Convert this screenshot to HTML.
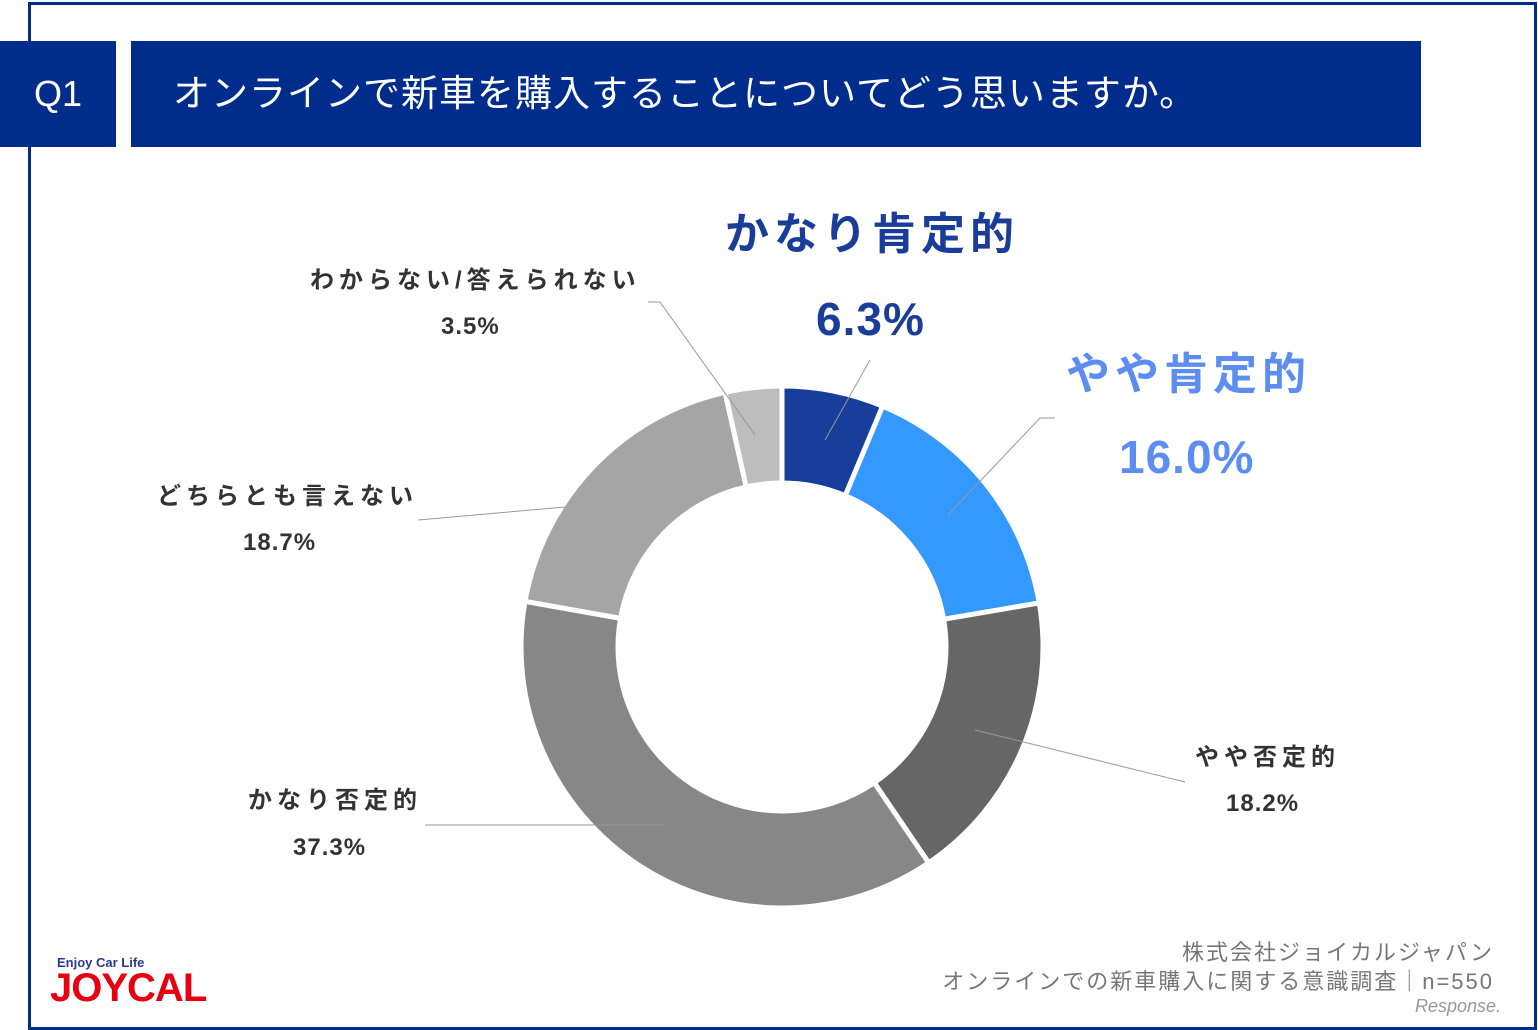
<!DOCTYPE html>
<html><head><meta charset="utf-8"><style>
body{margin:0;width:1538px;height:1030px;background:#fff;overflow:hidden;position:relative;font-family:"Liberation Sans","Noto Sans CJK JP",sans-serif}
.frame{position:absolute;left:28px;top:2px;width:1503px;height:1022px;border:3px solid #002d8c}
.q{position:absolute;left:0;top:41px;width:116px;height:106px;background:#002d8c;color:#fff;font-size:36px;line-height:106px;text-align:center;padding-left:0}
.t{position:absolute;left:131px;top:41px;width:1290px;height:106px;background:#002d8c;color:#fff;font-size:37px;line-height:106px;padding-left:42px;box-sizing:border-box;letter-spacing:1px}
.l{position:absolute;text-align:center;font-weight:bold;color:#333;font-size:24px;line-height:46px;white-space:nowrap;letter-spacing:5px}
.p{letter-spacing:1px}
.foot{position:absolute;right:44px;top:938px;text-align:right;color:#777;font-size:22px;line-height:29px;letter-spacing:2px}
</style></head><body>
<div class="frame"></div>
<div class="q">Q1</div>
<div class="t">オンラインで新車を購入することについてどう思いますか。</div>
<svg width="1538" height="1030" style="position:absolute;left:0;top:0">
<g id="d" stroke="#fff" stroke-width="5"></g>
<g stroke="#999" stroke-width="1" fill="none">
<polyline points="870,360 825,440"/>
<polyline points="1055,418 1040,418 948,515"/>
<polyline points="1185,782 975,730"/>
<polyline points="425,825 665,825"/>
<polyline points="418,520 565,507"/>
<polyline points="648,302 660,302 755,435"/>
</g>
</svg>
<div class="l" style="left:725px;top:200px;color:#1a3d99;font-size:44px;line-height:70px;letter-spacing:5px">かなり肯定的</div>
<div class="l" style="left:816px;top:284px;color:#1a3d99;font-size:46px;line-height:70px;letter-spacing:1px">6.3%</div>
<div class="l" style="left:1066px;top:340px;color:#5b8ef0;font-size:44px;line-height:70px;letter-spacing:5px">やや肯定的</div>
<div class="l" style="left:1119px;top:422px;color:#5b8ef0;font-size:46px;line-height:70px;letter-spacing:1px">16.0%</div>
<div class="l" style="left:1195px;top:735px">やや否定的</div>
<div class="l p" style="left:1226px;top:781px">18.2%</div>
<div class="l" style="left:248px;top:778px">かなり否定的</div>
<div class="l p" style="left:293px;top:825px">37.3%</div>
<div class="l" style="left:157px;top:474px">どちらとも言えない</div>
<div class="l p" style="left:243px;top:520px">18.7%</div>
<div class="l" style="left:310px;top:258px">わからない/答えられない</div>
<div class="l p" style="left:441px;top:304px">3.5%</div>
<div class="foot">株式会社ジョイカルジャパン<br>オンラインでの新車購入に関する意識調査｜n=550</div>
<div style="position:absolute;left:1415px;top:996px;color:#999;font-size:18px;font-style:italic">Response.</div>
<div style="position:absolute;left:57px;top:955px;color:#2b3990;font-size:13px;font-weight:bold">Enjoy Car Life</div>
<div style="position:absolute;left:50px;top:966px;color:#e60012;font-size:40px;font-weight:bold;letter-spacing:-1px">JOYCAL</div>
<script>
var cx=782,cy=647,R=261,r=164,v=[6.3,16.0,18.2,37.3,18.7,3.5],c=["#173e9b","#3399ff","#666666","#878787","#a5a5a5","#bdbdbd"],a=0,g=document.getElementById('d'),s='';
function p(rad,ang){var t=ang/100*2*Math.PI;return [cx+rad*Math.sin(t),cy-rad*Math.cos(t)];}
v.forEach(function(x,i){var b=a+x,L=x>50?1:0,p1=p(R,a),p2=p(R,b),p3=p(r,b),p4=p(r,a);
s+='<path fill="'+c[i]+'" d="M'+p1+' A'+R+','+R+' 0 '+L+' 1 '+p2+' L'+p3+' A'+r+','+r+' 0 '+L+' 0 '+p4+' Z"/>';a=b;});
g.innerHTML=s;
</script>
</body></html>
